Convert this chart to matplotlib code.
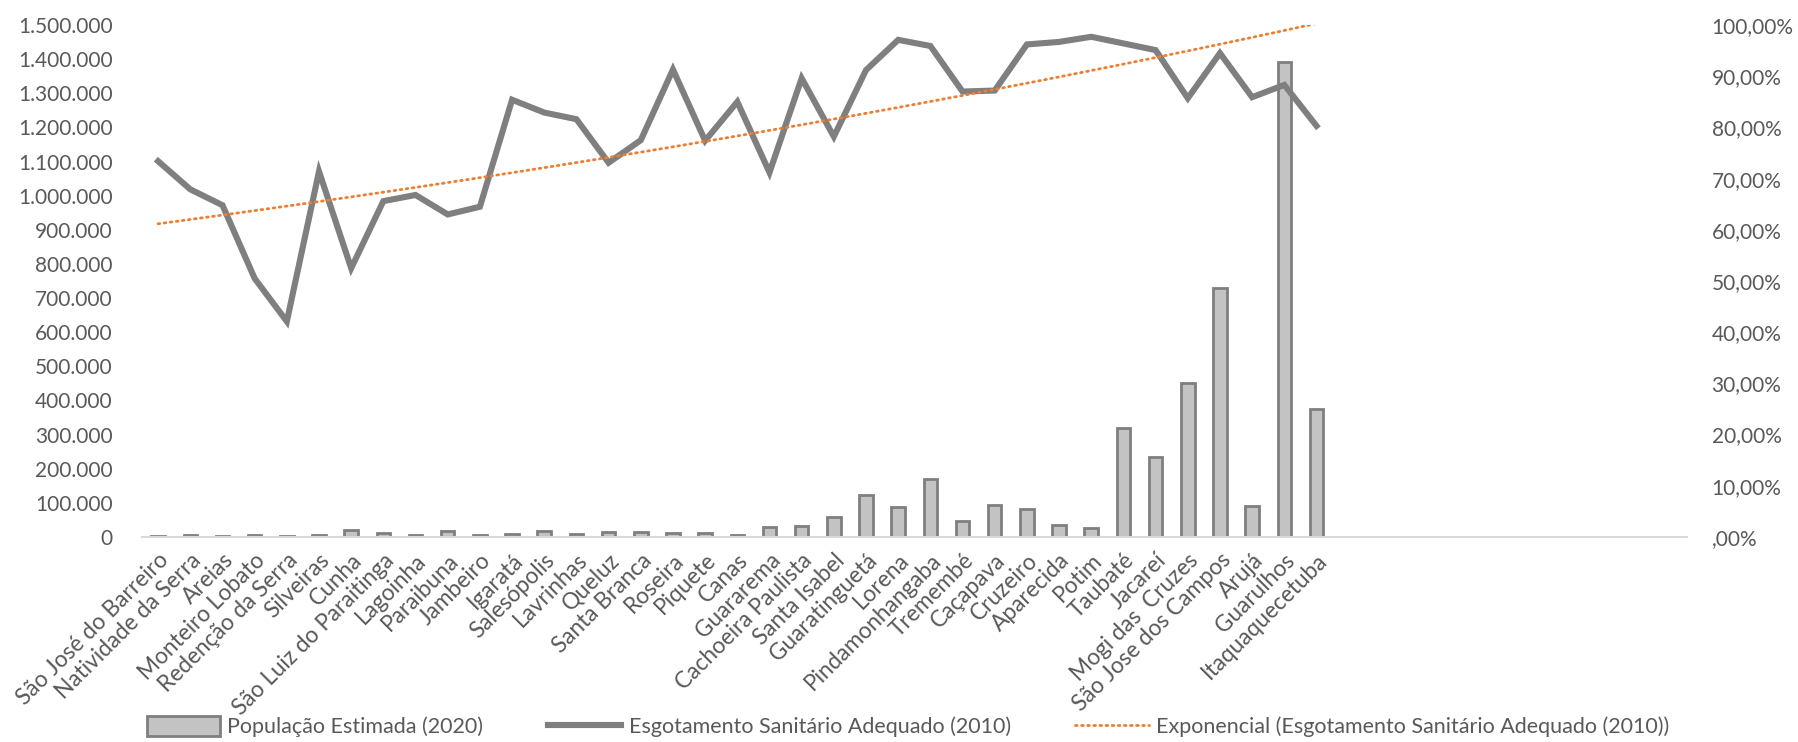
import numpy as np
import matplotlib
matplotlib.use("Agg")
import matplotlib.pyplot as plt
from matplotlib.ticker import FuncFormatter, MultipleLocator

plt.rcParams["font.family"] = ["Lato", "DejaVu Sans"]

# municípios, ordenados pelo esgotamento adequado
municipios = [
    "São José do Barreiro", "Natividade da Serra", "Areias", "Monteiro Lobato",
    "Redenção da Serra", "Silveiras", "Cunha", "São Luiz do Paraitinga",
    "Lagoinha", "Paraibuna", "Jambeiro", "Igaratá", "Salesópolis", "Lavrinhas",
    "Queluz", "Santa Branca", "Roseira", "Piquete", "Canas", "Guararema",
    "Cachoeira Paulista", "Santa Isabel", "Guaratinguetá", "Lorena",
    "Pindamonhangaba", "Tremembé", "Caçapava", "Cruzeiro", "Aparecida",
    "Potim", "Taubaté", "Jacareí", "Mogi das  Cruzes", "São Jose dos Campos",
    "Arujá", "Guarulhos", "Itaquaquecetuba",
]
linhas_vazias = 11  # linhas em branco no fim da tabela

populacao_2020 = [
    4100, 6700, 3900, 4600, 3900, 6300, 21900, 10700, 4900, 18300, 6700,
    9800, 17200, 7300, 13600, 14900, 10900, 13100, 5100, 30100, 33500,
    57500, 122500, 89100, 170000, 47700, 95000, 82200, 36200, 25100,
    317900, 235400, 450800, 729700, 91000, 1392100, 375000,
]

esgotamento_2010 = [
    0.734, 0.679, 0.648, 0.505, 0.421, 0.714, 0.525, 0.656, 0.668, 0.630,
    0.645, 0.854, 0.829, 0.816, 0.731, 0.775, 0.913, 0.774, 0.850, 0.712,
    0.896, 0.782, 0.912, 0.971, 0.959, 0.870, 0.872, 0.962, 0.967, 0.977,
    0.964, 0.951, 0.857, 0.945, 0.859, 0.883, 0.803,
]

cinza_txt = "#595959"
n = len(municipios)
x = np.arange(n)

# linha de tendência exponencial (y = a*e^(b*x), x = 1..n)
b, ln_a = np.polyfit(x + 1, np.log(esgotamento_2010), 1)
tendencia = np.exp(ln_a) * np.exp(b * (x + 1))

fig = plt.figure(figsize=(17.98, 7.42), dpi=100)
ax = fig.add_axes([0.079, 0.2763, 0.859, 0.6900])
ax2 = ax.twinx()

barras = ax.bar(x, populacao_2020, width=0.42, color="#c3c3c3",
                edgecolor="#7f7f7f", linewidth=2.0,
                label="População Estimada (2020)")
linha, = ax2.plot(x, esgotamento_2010, color="#7f7f7f", linewidth=4.4,
                  solid_joinstyle="miter",
                  label="Esgotamento Sanitário Adequado (2010)")
tend, = ax2.plot(x, tendencia, color="#ED7D31", linewidth=2.0,
                 linestyle=(0, (0.6, 1.6)), dash_capstyle="round",
                 label="Exponencial (Esgotamento Sanitário Adequado (2010))")

ax.set_xlim(-0.5, n + linhas_vazias - 0.5)
ax.set_ylim(0, 1_500_000)
ax2.set_ylim(0, 1.0)
ax.yaxis.set_major_locator(MultipleLocator(100_000))
ax2.yaxis.set_major_locator(MultipleLocator(0.10))

ax.yaxis.set_major_formatter(FuncFormatter(
    lambda v, p: f"{v:,.0f}".replace(",", ".")))


def pct(v, p):
    s = f"{v * 100:.2f}".replace(".", ",") + "%"
    return s[1:] if s.startswith("0,") else s


ax2.yaxis.set_major_formatter(FuncFormatter(pct))

ax.set_xticks(x)
ax.set_xticklabels(municipios, rotation=45, ha="right",
                   rotation_mode="anchor", color=cinza_txt)

for a in (ax, ax2):
    for s in a.spines.values():
        s.set_visible(False)
    a.tick_params(length=0, colors=cinza_txt, labelsize=15)
ax.spines["bottom"].set_visible(True)
ax.spines["bottom"].set_color("#d9d9d9")
ax.spines["bottom"].set_linewidth(1.5)
ax.tick_params(axis="y", pad=21)
ax.tick_params(axis="x", pad=9, labelsize=16.3)
ax2.tick_params(axis="y", pad=18)

leg = fig.legend(handles=[barras, linha, tend], loc="lower center",
                 bbox_to_anchor=(0.505, -0.02), ncol=3, frameon=False,
                 fontsize=15.5, handlelength=3.4, handleheight=1.0,
                 columnspacing=3.0, handletextpad=0.35)
for t in leg.get_texts():
    t.set_color(cinza_txt)

fig.savefig("out.png", dpi=100, facecolor="white")
